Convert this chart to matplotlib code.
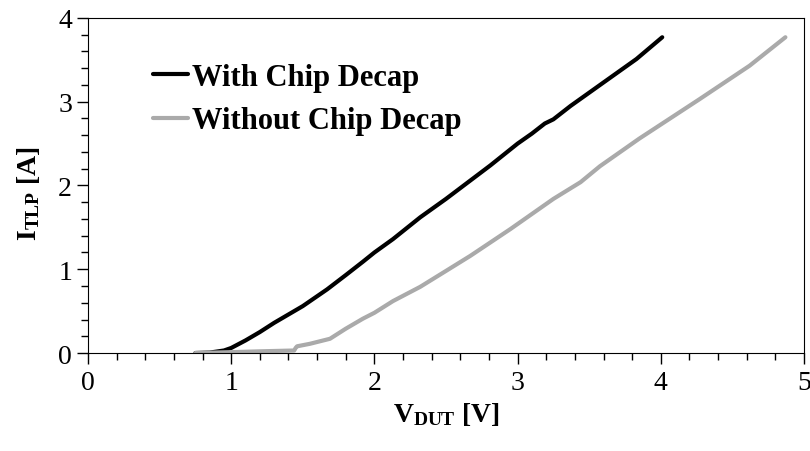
import matplotlib
matplotlib.use('Agg')
import matplotlib.pyplot as plt
from matplotlib.ticker import MultipleLocator

plt.rcParams['font.family'] = 'Liberation Serif'
plt.rcParams['mathtext.fontset'] = 'custom'
plt.rcParams['mathtext.rm'] = 'Liberation Serif'
plt.rcParams['mathtext.bf'] = 'Liberation Serif:bold'

# TLP sweep, with on-chip decoupling capacitor
v_with = [0.75, 0.85, 0.95, 1.0, 1.1, 1.2, 1.3, 1.4, 1.5, 1.67, 1.8, 1.92, 2.0, 2.13,
          2.32, 2.5, 2.81, 3.0, 3.1, 3.16, 3.19, 3.25, 3.37, 3.6, 3.83, 4.01]
i_with = [0.0, 0.005, 0.03, 0.06, 0.15, 0.25, 0.36, 0.46, 0.56, 0.76, 0.93, 1.09, 1.2, 1.36,
          1.62, 1.84, 2.24, 2.50, 2.62, 2.70, 2.74, 2.79, 2.95, 3.23, 3.51, 3.77]

# TLP sweep, no on-chip decoupling capacitor
v_without = [0.75, 1.0, 1.2, 1.44, 1.45, 1.46, 1.55, 1.69, 1.8, 1.92, 2.0, 2.13, 2.32, 2.5,
             2.67, 2.95, 3.25, 3.44, 3.575, 3.85, 4.27, 4.62, 4.87]
i_without = [0.0, 0.01, 0.02, 0.03, 0.06, 0.08, 0.11, 0.17, 0.29, 0.41, 0.48, 0.62, 0.79, 0.98,
             1.16, 1.48, 1.84, 2.04, 2.23, 2.56, 3.03, 3.43, 3.77]

fig = plt.figure(figsize=(8.1, 4.52), dpi=100)
ax = fig.add_axes([0.1086, 0.2168, 0.884, 0.7412])

ax.plot(v_with, i_with, color='black', lw=3, label='With Chip Decap', solid_capstyle='round')
ax.plot(v_without, i_without, color='#aaaaaa', lw=3, label='Without Chip Decap', solid_capstyle='round')

ax.set_xlim(0, 5)
ax.set_ylim(0, 4)
ax.xaxis.set_major_locator(MultipleLocator(1))
ax.xaxis.set_minor_locator(MultipleLocator(0.2))
ax.yaxis.set_major_locator(MultipleLocator(1))
ax.yaxis.set_minor_locator(MultipleLocator(0.2))
ax.tick_params(which='both', direction='out', labelsize=20, width=1)
ax.tick_params(which='major', length=8)
ax.tick_params(which='minor', length=5)
ax.tick_params(axis='x', pad=4)

ax.set_xlabel(r'$\mathbf{V_{DUT}}$ [V]', fontsize=20, fontweight='bold', labelpad=4)
ax.set_ylabel(r'$\mathbf{I_{TLP}}$ [A]', fontsize=20, fontweight='bold')
ax.yaxis.set_label_coords(-0.064, 0.48)

leg = ax.legend(loc='upper left', bbox_to_anchor=(0.074, 0.903), frameon=False,
                prop={'weight': 'bold', 'size': 22}, handlelength=1.15,
                handletextpad=0.12, labelspacing=0.48, borderaxespad=0)

fig.savefig('out.png', dpi=100)
